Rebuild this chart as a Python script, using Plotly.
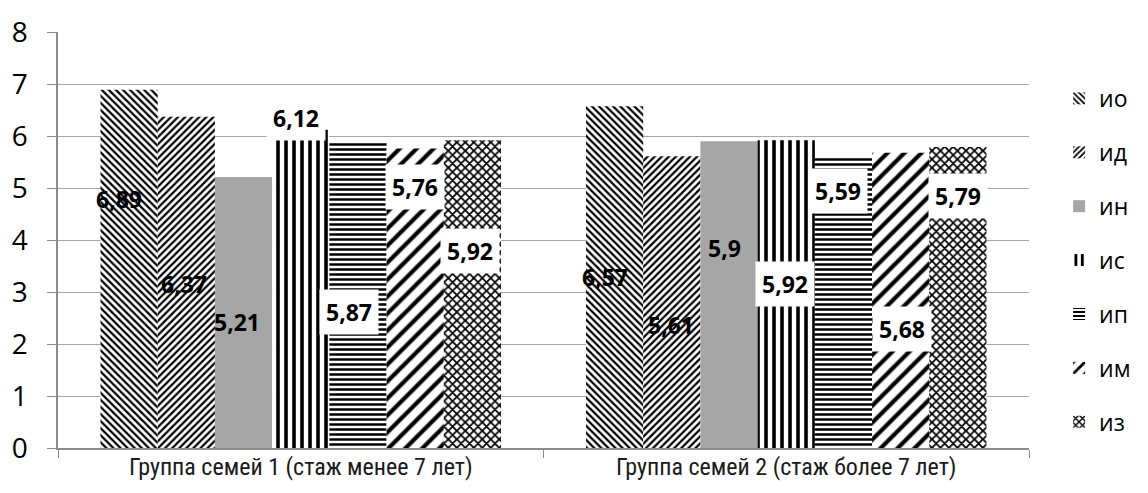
import plotly.graph_objects as go

categories = ["Группа семей 1 (стаж менее 7 лет)", "Группа семей 2 (стаж более 7 лет)"]
series_names = ["ио", "ид", "ин", "ис", "ип", "им", "из"]
values = {
    "ио": [6.89, 6.57],
    "ид": [6.37, 5.61],
    "ин": [5.21, 5.90],
    "ис": [6.12, 5.92],
    "ип": [5.87, 5.59],
    "им": [5.76, 5.68],
    "из": [5.92, 5.79],
}
y_ticks = [0, 1, 2, 3, 4, 5, 6, 7, 8]

# label placement (data units) and whether label has a white box
label_y = {
    "ио": [4.78, 3.28],
    "ид": [3.15, 2.37],
    "ин": [2.43, 3.85],
    "ис": [6.35, 3.15],
    "ип": [2.62, 4.95],
    "им": [5.02, 2.29],
    "из": [3.79, 4.85],
}
label_box = {
    "ио": [False, False],
    "ид": [False, False],
    "ин": [False, False],
    "ис": [True, True],
    "ип": [True, True],
    "им": [True, True],
    "из": [True, True],
}
label_dx = {
    "ио": [-8, -8],
    "ид": [-1, 0],
    "ин": [-6, -4],
    "ис": [-5, -1],
    "ип": [-10, -6],
    "им": [-1, 0],
    "из": [-4, -2],
}

def pat(shape, size, solidity):
    return dict(shape=shape, size=size, solidity=solidity, fgcolor="black",
                bgcolor="white", fgopacity=1, fillmode="overlay")

patterns = {
    "ио": pat("\\", 5, 0.45),
    "ид": pat("/", 5, 0.45),
    "ин": None,
    "ис": pat("|", 8, 0.45),
    "ип": pat("-", 5, 0.5),
    "им": pat("/", 12, 0.35),
    "из": pat("x", 6, 0.5),
}

fig = go.Figure()
for name in series_names:
    p = patterns[name]
    if p is None:
        marker = dict(color="#a6a6a6", line=dict(width=0))
    else:
        marker = dict(color="white", pattern=p, line=dict(width=0))
    fig.add_trace(go.Bar(
        name=name, x=categories, y=values[name], marker=marker,
        legendgroup=name, hoverinfo="skip",
    ))

# plot geometry for annotation offsets
W, H = 1148, 493
ml, mr, mt, mb = 58, 108, 26, 45
plot_w = W - ml - mr
bargap = 0.175
n = len(series_names)
cat_w = plot_w / len(categories)
bar_w = cat_w * (1 - bargap) / n

annotations = []
for i, name in enumerate(series_names):
    for j, cat in enumerate(categories):
        txt = f"{values[name][j]:g}".replace(".", ",")
        box = label_box[name][j]
        annotations.append(dict(
            x=cat, y=label_y[name][j], xref="x", yref="y",
            xshift=(i - (n - 1) / 2) * bar_w + label_dx[name][j],
            text=f"<b>{txt}</b>", showarrow=False,
            font=dict(family="Open Sans, Noto Sans, sans-serif", size=23, color="black"),
            bgcolor="white" if box else "rgba(0,0,0,0)",
            borderpad=6,
        ))

fig.update_layout(
    width=W, height=H,
    margin=dict(l=ml, r=mr, t=mt, b=mb),
    paper_bgcolor="white", plot_bgcolor="white",
    barmode="group", bargap=bargap, bargroupgap=0,
    annotations=annotations,
    showlegend=True,
    legend=dict(
        x=1.031, xanchor="left", y=0.892, yanchor="top",
        font=dict(family="Open Sans, sans-serif", size=23, color="black"),
        tracegroupgap=21, itemwidth=30, traceorder="grouped",
        bgcolor="rgba(0,0,0,0)",
    ),
    xaxis=dict(
        range=[-0.5, 1.5], showgrid=False,
        showline=True, linecolor="#8c8c8c", linewidth=1.5,
        tickson="boundaries", ticks="outside", ticklen=8, tickcolor="#8c8c8c",
        ticklabelstandoff=-4,
        tickfont=dict(family="Liberation Sans Narrow, Roboto Condensed, Liberation Sans, sans-serif", size=24, color="#1a1a1a"),
        fixedrange=True,
    ),
    yaxis=dict(
        range=[0, 8], tickvals=y_ticks,
        showgrid=True, gridcolor="#a6a6a6", gridwidth=1.2,
        showline=True, linecolor="#8c8c8c", linewidth=1.5,
        ticks="outside", ticklen=9, tickcolor="#8c8c8c",
        ticklabelstandoff=14,
        tickfont=dict(family="Open Sans, sans-serif", size=28, color="black"),
        zeroline=False, fixedrange=True,
    ),
)

fig.write_html("out.html", post_script="document.body.style.margin='0';",
               config={"displayModeBar": False})
